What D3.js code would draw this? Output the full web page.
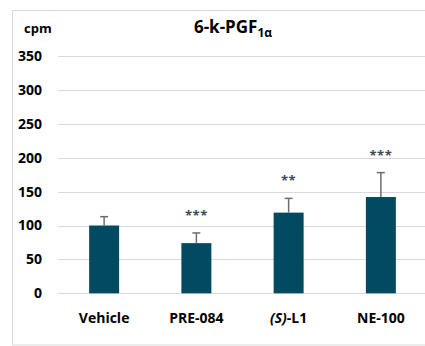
<!DOCTYPE html>
<html><head><meta charset="utf-8">
<script src="https://cdn.jsdelivr.net/npm/d3@7"></script>
<style>body{margin:0;background:#fff}svg{display:block}text{font-family:"Open Sans",sans-serif}</style>
</head><body><svg id="c" width="425" height="346"></svg>
<script>
const categories = ["Vehicle","PRE-084","(S)-L1","NE-100"];
const values = [100, 74, 119, 142];
const errors = [13, 15, 21, 36];
const stars = ["", "***", "**", "***"];
const yTicks = [0,50,100,150,200,250,300,350];

const svg = d3.select("#c");
svg.append("rect").attr("x",12.5).attr("y",10.5).attr("width",430).attr("height",334.5)
  .attr("fill","#fff").attr("stroke","#d9d9d9");

const x = d3.scaleBand().domain(categories).range([58,427]).paddingInner(0.675).paddingOuter(0.3375);
const y = d3.scaleLinear().domain([0,350]).range([293.3,56]);

const grid = svg.append("g");
grid.selectAll("line").data(yTicks).join("line")
  .attr("x1",58).attr("x2",425).attr("y1",d=>Math.round(y(d))+0.5).attr("y2",d=>Math.round(y(d))+0.5)
  .attr("stroke","#d9d9d9").attr("stroke-width",1);

const yAxis = d3.axisLeft(y).tickValues(yTicks).tickSize(0).tickPadding(0);
const ya = svg.append("g").attr("transform","translate(42,0)").call(yAxis);
ya.select(".domain").remove();
ya.selectAll("text").attr("font-size",14).attr("font-weight",700).attr("fill","#000")
  .attr("font-family","'Open Sans',sans-serif");

const bw = x.bandwidth();
svg.append("g").selectAll("rect").data(categories).join("rect")
  .attr("x",d=>x(d)).attr("width",bw)
  .attr("y",(d,i)=>y(values[i])).attr("height",(d,i)=>y(0)-y(values[i]))
  .attr("fill","#024a62");

const eb = svg.append("g").attr("stroke","#6e6e6e").attr("stroke-width",1.5);
categories.forEach((c,i)=>{
  const cx = x(c)+bw/2;
  eb.append("line").attr("x1",cx).attr("x2",cx).attr("y1",y(values[i])).attr("y2",y(values[i]+errors[i]));
  eb.append("line").attr("x1",cx-4).attr("x2",cx+4).attr("y1",y(values[i]+errors[i])).attr("y2",y(values[i]+errors[i]));
});

svg.append("g").selectAll("text").data(categories).join("text")
  .attr("x",d=>x(d)+bw/2).attr("y",(d,i)=>y(values[i]+errors[i])-13)
  .attr("text-anchor","middle").attr("font-size",13).attr("font-weight",700).attr("fill","#3c4a56")
  .attr("letter-spacing",0.5)
  .text((d,i)=>stars[i]);

const xl = svg.append("g");
categories.forEach(c=>{
  const t = xl.append("text").attr("x",x(c)+bw/2).attr("y",323).attr("text-anchor","middle")
    .attr("font-size",14).attr("font-weight",700).attr("fill","#000");
  const m = c.match(/^\((.*)\)(.*)$/);
  if(m){
    t.append("tspan").attr("font-style","italic").text("("+m[1]+")");
    t.append("tspan").text(m[2]);
  } else t.text(c);
});

svg.append("text").attr("x",24).attr("y",33).attr("font-size",13).attr("font-weight",700).text("cpm");
const title = svg.append("text").attr("x",233).attr("y",33).attr("text-anchor","middle")
  .attr("font-size",17).attr("font-weight",700);
title.append("tspan").text("6-k-PGF");
title.append("tspan").attr("font-size",12).attr("dy",4).text("1α");
</script></body></html>
